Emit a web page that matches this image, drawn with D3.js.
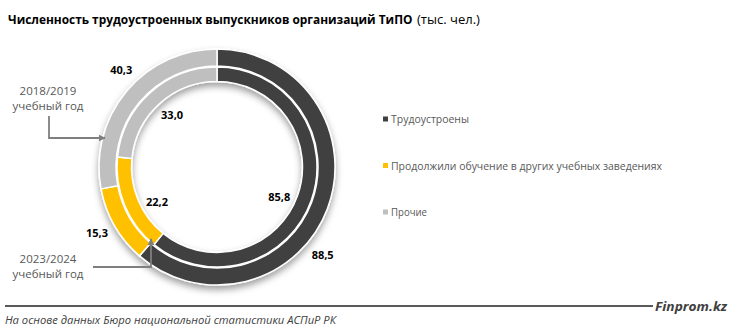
<!DOCTYPE html>
<html>
<head>
<meta charset="utf-8">
<script src="https://cdn.jsdelivr.net/npm/d3@7"></script>
<style>
  html, body { margin: 0; padding: 0; background: #fff; }
  svg { display: block; font-family: "Open Sans", "Noto Sans", sans-serif; }
</style>
</head>
<body>
<svg id="chart" width="731" height="334"></svg>
<script>
// Categories and colours
const categories = ["Трудоустроены", "Продолжили обучение в других учебных заведениях", "Прочие"];
const colors = ["#404040", "#FFC000", "#BFBFBF"];

// Years (outer ring first) and values, thousand persons
const years = ["2018/2019", "2023/2024"];
const values2018 = [88.5, 15.3, 40.3];
const values2023 = [85.8, 22.2, 33.0];

const title = "Численность трудоустроенных выпускников организаций ТиПО";
const titleUnit = "(тыс. чел.)";
const source = "На основе данных Бюро национальной статистики АСПиР РК";
const brand = "Finprom.kz";

const svg = d3.select("#chart");
const cx = 217, cy = 167;

// Shrink a text's font size until its natural width equals the given width
function fitWidth(sel, width) {
  const node = sel.node();
  const size = parseFloat(sel.attr("font-size"));
  const w = node.getComputedTextLength();
  if (w > 0) sel.attr("font-size", (size * width / w).toFixed(2));
  return sel;
}

// Ring geometry and label placement per ring
const rings = [
  { values: values2018, inner: 101, outer: 118, labelR: 137, nudge: [19, 1, 6] },
  { values: values2023, inner: 85.5, outer: 100, labelR: 69, nudge: [6, -7, 1.5] }
];

const defs = svg.append("defs");
const shadow = defs.append("filter").attr("id", "ringShadow")
  .attr("x", "-20%").attr("y", "-20%").attr("width", "140%").attr("height", "140%");
shadow.append("feDropShadow")
  .attr("dx", 0).attr("dy", 4).attr("stdDeviation", 3.5)
  .attr("flood-color", "#000").attr("flood-opacity", 0.38);

const pie = d3.pie().sort(null).value(d => d);
const fmt = v => d3.format(".1f")(v).replace(".", ",");

const ringG = svg.append("g").attr("transform", `translate(${cx},${cy})`)
  .attr("filter", "url(#ringShadow)");
const labelG = svg.append("g").attr("transform", `translate(${cx},${cy})`);

rings.forEach(ring => {
  const arcs = pie(ring.values);
  const arc = d3.arc().innerRadius(ring.inner).outerRadius(ring.outer);
  ringG.append("g").selectAll("path").data(arcs).join("path")
    .attr("d", arc)
    .attr("fill", (d, i) => colors[i])
    .attr("stroke", "#fff").attr("stroke-width", 1.5);

  labelG.append("g").selectAll("text").data(arcs).join("text")
    .attr("x", (d, i) => {
      const a = (d.startAngle + d.endAngle) / 2 + ring.nudge[i] * Math.PI / 180;
      return ring.labelR * Math.sin(a);
    })
    .attr("y", (d, i) => {
      const a = (d.startAngle + d.endAngle) / 2 + ring.nudge[i] * Math.PI / 180;
      return -ring.labelR * Math.cos(a);
    })
    .attr("text-anchor", "middle").attr("dominant-baseline", "central")
    .attr("font-size", 11).attr("font-weight", 700).attr("fill", "#000")
    .text(d => fmt(d.data));
});

// Title: bold heading followed by the unit in regular weight
fitWidth(svg.append("text").attr("x", 8).attr("y", 24)
  .attr("font-size", 12.5).attr("font-weight", 700).attr("fill", "#000")
  .text(title), 405);
fitWidth(svg.append("text").attr("x", 417).attr("y", 24)
  .attr("font-size", 12.5).attr("fill", "#000")
  .text(titleUnit), 63);

// Legend
const legendY = d3.scalePoint().domain(categories).range([119, 212]);
const legendW = [78, 271, 36];
const lg = svg.append("g").selectAll("g").data(categories).join("g")
  .attr("transform", d => `translate(383,${legendY(d)})`);
lg.append("rect").attr("x", 0).attr("y", -2.5).attr("width", 5).attr("height", 5)
  .attr("fill", (d, i) => colors[i]);
lg.append("text").attr("x", 8).attr("y", 4)
  .attr("font-size", 11).attr("fill", "#595959")
  .attr("textLength", (d, i) => legendW[i]).attr("lengthAdjust", "spacingAndGlyphs")
  .text(d => d);

// Year callouts
defs.append("marker").attr("id", "arrowHead")
  .attr("viewBox", "0 0 10 10").attr("refX", 9).attr("refY", 5)
  .attr("markerWidth", 4).attr("markerHeight", 4).attr("orient", "auto")
  .append("path").attr("d", "M0,0 L10,5 L0,10 Z").attr("fill", "#7F7F7F");

const callouts = [
  { year: years[0], tx: 48, ty: 95, path: [[49, 116], [49, 138], [105, 138]] },
  { year: years[1], tx: 48, ty: 263, path: [[93, 267], [151, 267], [151, 239]] }
];
callouts.forEach(c => {
  const t = svg.append("text").attr("text-anchor", "middle")
    .attr("font-size", 11.5).attr("fill", "#595959");
  t.append("tspan").attr("x", c.tx).attr("y", c.ty).text(c.year);
  t.append("tspan").attr("x", c.tx).attr("y", c.ty + 15).text("учебный год");
  svg.append("path").attr("d", d3.line()(c.path))
    .attr("fill", "none").attr("stroke", "#7F7F7F").attr("stroke-width", 1.8)
    .attr("marker-end", "url(#arrowHead)");
});

// Footer
svg.append("line").attr("x1", 5).attr("x2", 653).attr("y1", 306).attr("y2", 306)
  .attr("stroke", "#595959").attr("stroke-width", 2);
svg.append("text").attr("x", 727).attr("y", 311).attr("text-anchor", "end")
  .attr("font-size", 13).attr("font-weight", 700).attr("font-style", "italic")
  .attr("fill", "#404040")
  .attr("textLength", 72).attr("lengthAdjust", "spacingAndGlyphs")
  .text(brand);
svg.append("text").attr("x", 5).attr("y", 324)
  .attr("font-size", 10.5).attr("font-style", "italic").attr("fill", "#404040")
  .attr("textLength", 331).attr("lengthAdjust", "spacingAndGlyphs")
  .text(source);
</script>
</body>
</html>
